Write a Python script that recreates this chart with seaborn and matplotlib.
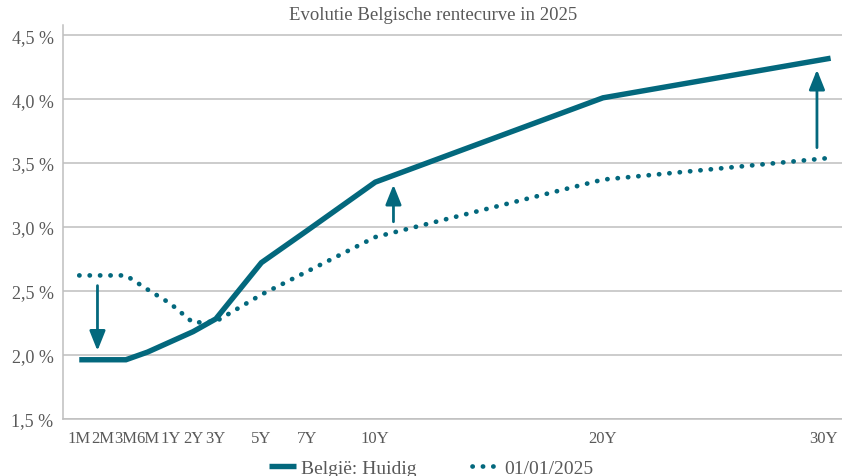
import numpy as np
import pandas as pd
import matplotlib
matplotlib.use("Agg")
import matplotlib.pyplot as plt
import matplotlib.transforms as mtransforms
import seaborn as sns

# =========================
# data
# =========================
maturities = ["1M", "2M", "3M", "6M", "1Y", "2Y", "3Y", "5Y", "7Y", "10Y", "20Y", "30Y"]
x_pos = [-3, -1.95, -0.95, 0, 1, 2, 3, 5, 7, 10, 20, 30]  # months squeezed before 1Y
huidig = [1.96, 1.96, 1.96, 2.02, 2.10, 2.18, 2.28, 2.72, 2.97, 3.35, 4.01, 4.32]
begin_jaar = [2.62, 2.62, 2.62, 2.51, 2.40, 2.25, 2.26, 2.47, 2.65, 2.92, 3.37, 3.54]

y_ticks = [1.5, 2.0, 2.5, 3.0, 3.5, 4.0, 4.5]
y_labels = ["1,5 %", "2,0 %", "2,5 %", "3,0 %", "3,5 %", "4,0 %", "4,5 %"]

# arrows: x, from, to
arrows_x = [-2.2, 10.8, 29.4]
arrows_from = [2.54, 3.04, 3.62]
arrows_to = [2.03, 3.33, 4.23]

title = "Evolutie Belgische rentecurve in 2025"
label_huidig = "België: Huidig"
label_begin = "01/01/2025"

teal = "#03687d"
grey_txt = "#595959"
grey_grid = "#bfbfbf"

df = pd.DataFrame({"x": x_pos, "huidig": huidig, "begin": begin_jaar})

# =========================
# plot
# =========================
sns.set_style("white")
plt.rcParams["font.family"] = ["Liberation Serif", "DejaVu Serif"]

fig = plt.figure(figsize=(8.42, 4.77), dpi=100)
ax = fig.add_axes([0.0752, 0.1205, 0.9248, 0.825])

sns.lineplot(data=df, x="x", y="huidig", ax=ax, color=teal, linewidth=3.9,
             solid_capstyle="butt", solid_joinstyle="miter", label=label_huidig, zorder=3)
sns.lineplot(data=df, x="x", y="begin", ax=ax, color=teal, linewidth=3.4,
             linestyle=(0, (0.05, 2.15)), dash_capstyle="round", label=label_begin, zorder=3)

for xa, y0, y1 in zip(arrows_x, arrows_from, arrows_to):
    ax.annotate("", xy=(xa, y1), xytext=(xa, y0),
                arrowprops=dict(arrowstyle="-|>,head_length=0.8,head_width=0.32",
                                mutation_scale=15, color=teal, lw=2,
                                shrinkA=0, shrinkB=0), zorder=4)

ax.set_xlim(-3.7, 30.5)
ax.set_ylim(1.5, 4.58)
ax.set_xticks(x_pos)
ax.set_xticklabels(maturities)
ax.set_yticks(y_ticks)
ax.set_yticklabels(y_labels)
ax.set_xlabel("")
ax.set_ylabel("")

ax.grid(axis="y", color=grey_grid, linewidth=1.1)
ax.grid(axis="x", visible=False)
for side in ["top", "right"]:
    ax.spines[side].set_visible(False)
for side in ["left", "bottom"]:
    ax.spines[side].set_color(grey_grid)
    ax.spines[side].set_linewidth(1.1)

ax.tick_params(axis="x", length=0, pad=8, labelsize=12, labelcolor=grey_txt)
ax.tick_params(axis="y", length=0, pad=7, labelsize=13, labelcolor=grey_txt)

# last label sits against the right edge
last = ax.get_xticklabels()[-1]
last.set_transform(last.get_transform() + mtransforms.ScaledTranslation(-5 / 72, 0, fig.dpi_scale_trans))

fig.text(0.514, 0.968, title, ha="center", va="center", fontsize=13.5, color=grey_txt)

ax.get_legend().remove()
handles, labels = ax.get_legend_handles_labels()
leg = fig.legend(handles, labels, loc="center", bbox_to_anchor=(0.512, 0.016), ncol=2,
                 frameon=False, fontsize=14, handlelength=1.4, handletextpad=0.25,
                 columnspacing=2.9, borderaxespad=0, labelcolor=grey_txt)

fig.savefig("out.png", dpi=100)
